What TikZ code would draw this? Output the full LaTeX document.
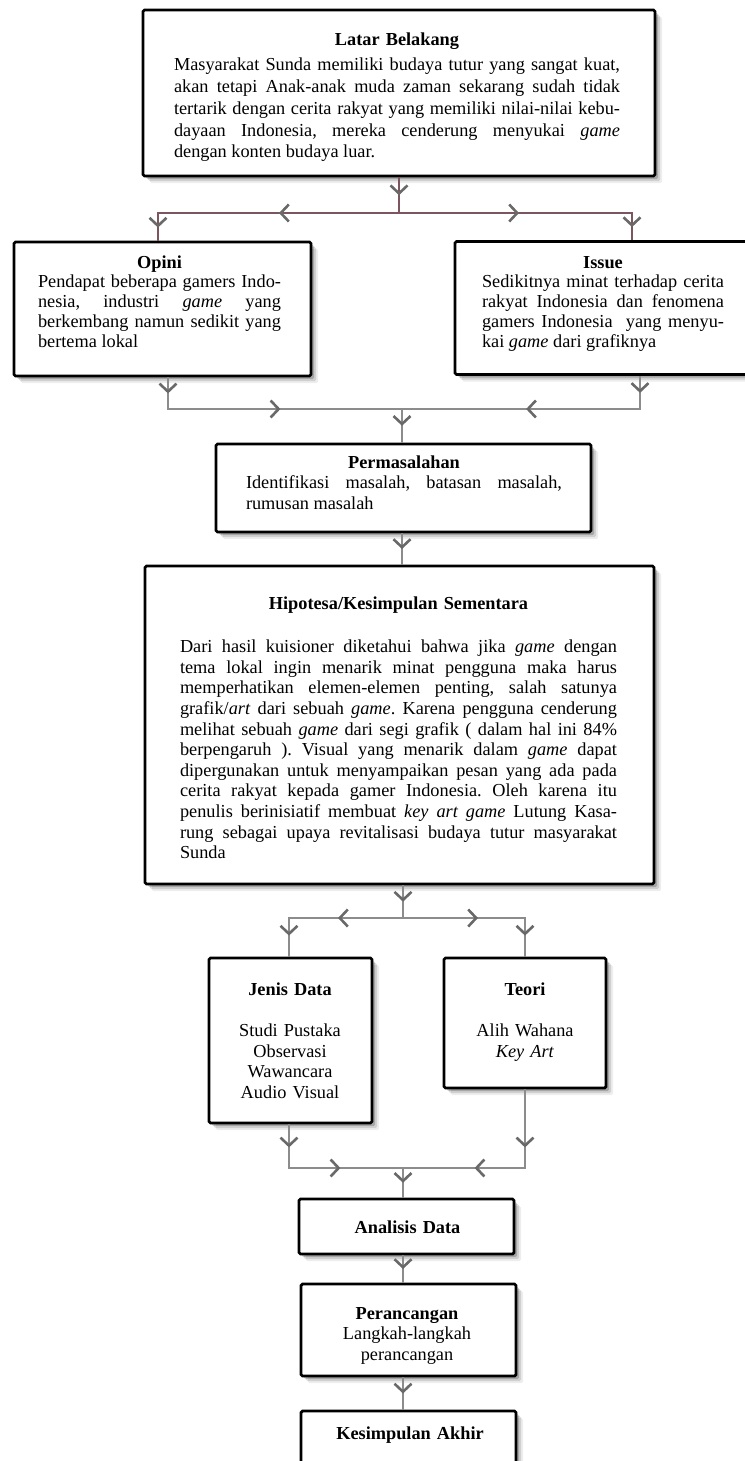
\documentclass[tikz,border=0pt]{standalone}
\usepackage{fontspec}
\setmainfont{Liberation Serif}
\usetikzlibrary{arrows.meta,decorations.markings,shadows}
\setlength{\parindent}{0pt}
\frenchspacing
\newlength{\jw}
\newcommand{\JL}[1]{\leavevmode\hbox to\jw{\frenchspacing\spaceskip=0pt\xspaceskip=0pt #1}}
\newcommand{\JLL}[1]{\leavevmode\hbox to\jw{\frenchspacing\spaceskip=0pt\xspaceskip=0pt #1\hfil}}
\definecolor{linegray}{RGB}{140,140,140}
\definecolor{chevgray}{RGB}{105,105,105}
\definecolor{mauve}{RGB}{125,85,95}
\tikzset{
  box/.style={draw=black, line width=2.8pt, rounded corners=1.5pt, fill=white,
    drop shadow={shadow xshift=7pt, shadow yshift=-7pt, fill=black, opacity=.07},
    drop shadow={shadow xshift=5pt, shadow yshift=-5pt, fill=black, opacity=.12},
    drop shadow={shadow xshift=3pt, shadow yshift=-3pt, fill=black, opacity=.2},
    inner sep=0pt},
  txt/.style={inner sep=0pt, align=center, anchor=base, font=\fontsize{18.3}{20.6}\selectfont},
  tw/.style={text width=#1, execute at begin node={\setlength{\jw}{#1}}},
  conn/.style={draw=linegray, line width=2.8pt},
  topconn/.style={draw=mauve, line width=2.8pt},
  chev/.style={postaction={decorate, decoration={markings,
    mark=at position #1 with {\arrow{Straight Barb[length=8pt,width=17pt,line width=2.6pt,color=chevgray]}}}}}
}
\begin{document}
\begin{tikzpicture}[x=1pt,y=-1pt]
\useasboundingbox (0,0) rectangle (744,1461);

% boxes
\node[box, minimum width=512pt, minimum height=166pt] (latar) at (399,93) {};
\node[box, minimum width=297pt, minimum height=134pt] (opini) at (162.5,309) {};
\node[box, minimum width=296pt, minimum height=133pt] (issue) at (603,308) {};
\node[box, minimum width=375pt, minimum height=88pt] (perm) at (403.5,488) {};
\node[box, minimum width=509pt, minimum height=318pt] (hipo) at (399.5,725) {};
\node[box, minimum width=163pt, minimum height=165pt] (jenis) at (290.5,1040.5) {};
\node[box, minimum width=162pt, minimum height=130pt] (teori) at (525,1023) {};
\node[box, minimum width=215pt, minimum height=55pt] (anal) at (406.5,1226.5) {};
\node[box, minimum width=215pt, minimum height=92pt] (peran) at (408.5,1330) {};
\node[box, minimum width=215pt, minimum height=60pt] (kesim) at (408.5,1441) {};

% texts
\node[txt, tw=446pt, font=\fontsize{18.3}{21.8}\selectfont] (latarT) at (397,46) {%
{\bfseries Latar Belakang}\\[3pt]%
\JL{Masyarakat Sunda memiliki budaya tutur yang sangat kuat,}\\%
\JL{akan tetapi Anak-anak muda zaman sekarang sudah tidak}\\%
\JL{tertarik dengan cerita rakyat yang memiliki nilai-nilai kebu-}\\%
\JL{dayaan Indonesia, mereka cenderung menyukai \textit{game}}\\%
\JLL{dengan konten budaya luar.}};

\node[txt, tw=243pt, font=\fontsize{18.3}{19.9}\selectfont] (opiniT) at (159.5,268) {%
{\bfseries Opini}\\%
\JL{Pendapat beberapa gamers Indo-}\\%
\JL{nesia, industri \textit{game} yang}\\%
\JL{berkembang namun sedikit yang}\\%
\JLL{bertema lokal}};

\node[txt, tw=242pt, font=\fontsize{18.3}{19.9}\selectfont] (issueT) at (603,268) {%
{\bfseries Issue}\\%
\JL{Sedikitnya minat terhadap cerita}\\%
\JL{rakyat Indonesia dan fenomena}\\%
\JL{gamers Indonesia\ \ yang menyu-}\\%
\JLL{kai \textit{game} dari grafiknya}};

\node[txt, tw=316pt] (permT) at (404,468) {%
{\bfseries Permasalahan}\\%
\JL{Identifikasi masalah, batasan masalah,}\\%
\JLL{rumusan masalah}};

\node[txt, tw=437pt] (hipoT) at (398.5,609) {%
{\bfseries Hipotesa/Kesimpulan Sementara}\\[23pt]%
\JL{Dari hasil kuisioner diketahui bahwa jika \textit{game} dengan}\\%
\JL{tema lokal ingin menarik minat pengguna maka harus}\\%
\JL{memperhatikan elemen-elemen penting, salah satunya}\\%
\JL{grafik/\textit{art} dari sebuah \textit{game}. Karena pengguna cenderung}\\%
\JL{melihat sebuah \textit{game} dari segi grafik ( dalam hal ini 84\%}\\%
\JL{berpengaruh ). Visual yang menarik dalam \textit{game} dapat}\\%
\JL{dipergunakan untuk menyampaikan pesan yang ada pada}\\%
\JL{cerita rakyat kepada gamer Indonesia. Oleh karena itu}\\%
\JL{penulis berinisiatif membuat \textit{key art game} Lutung Kasa-}\\%
\JL{rung sebagai upaya revitalisasi budaya tutur masyarakat}\\%
\JLL{Sunda}};

\node[txt, tw=150pt] (jenisT) at (290,995) {%
{\bfseries Jenis Data}\\[21pt]%
Studi Pustaka\\Observasi\\Wawancara\\Audio Visual};

\node[txt, tw=150pt] (teoriT) at (525,995) {%
{\bfseries Teori}\\[21pt]%
Alih Wahana\\\textit{Key Art}};

\node[txt, tw=200pt] (analT) at (407.5,1233) {\bfseries Analisis Data};

\node[txt, tw=200pt] (peranT) at (407,1319) {%
{\bfseries Perancangan}\\Langkah-langkah\\perancangan};

\node[txt, tw=200pt] (kesimT) at (410,1439) {\bfseries Kesimpulan Akhir};

% junctions
\coordinate (j1) at (399,213);
\coordinate (j1l) at (158,213);
\coordinate (j1r) at (632,213);
\coordinate (j2) at (402,409);
\coordinate (j2l) at (168,409);
\coordinate (j2r) at (640,409);
\coordinate (j3) at (403,918);
\coordinate (j3l) at (289,918);
\coordinate (j3r) at (525,918);
\coordinate (j4) at (403,1168);
\coordinate (j4l) at (289,1168);
\coordinate (j4r) at (525,1168);

% connectors
\draw[topconn, chev=0.5] (j1 |- latar.south) -- (j1);
\draw[topconn, chev=120pt, chev=-13pt] (j1) -- (j1l) -- (j1l |- opini.north);
\draw[topconn, chev=120pt, chev=-13pt] (j1) -- (j1r) -- (j1r |- issue.north);

\draw[conn, chev=16pt, chev=144pt] (j2l |- opini.south) -- (j2l) -- (j2);
\draw[conn, chev=17pt, chev=147pt] (j2r |- issue.south) -- (j2r) -- (j2);
\draw[conn, chev=0.5] (j2) -- (j2 |- perm.north);

\draw[conn, chev=0.5] (j2 |- perm.south) -- (j2 |- hipo.north);

\draw[conn, chev=0.5] (j3 |- hipo.south) -- (j3);
\draw[conn, chev=65pt, chev=-21pt] (j3) -- (j3l) -- (j3l |- jenis.north);
\draw[conn, chev=75pt, chev=-21pt] (j3) -- (j3r) -- (j3r |- teori.north);

\draw[conn, chev=23pt, chev=95pt] (j4l |- jenis.south) -- (j4l) -- (j4);
\draw[conn, chev=58pt, chev=129pt] (j4r |- teori.south) -- (j4r) -- (j4);
\draw[conn, chev=0.5] (j4) -- (j4 |- anal.north);

\draw[conn, chev=0.5] (j4 |- anal.south) -- (j4 |- peran.north);
\draw[conn, chev=0.5] (j4 |- peran.south) -- (j4 |- kesim.north);
\end{tikzpicture}
\end{document}
